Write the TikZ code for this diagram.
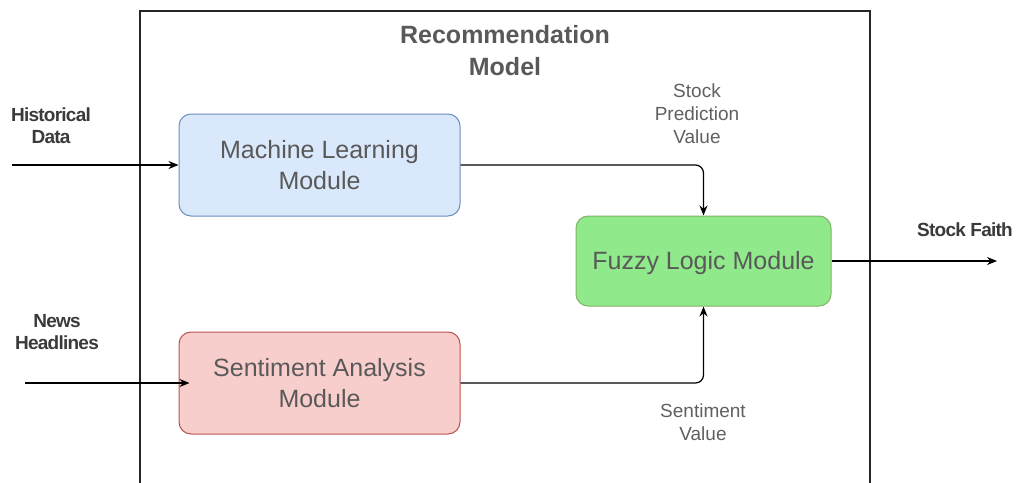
\documentclass[tikz,border=0pt]{standalone}
\usepackage{fontspec}
\setmainfont{Liberation Sans}
\usetikzlibrary{arrows.meta}
\definecolor{mlfill}{HTML}{DAE8FC}
\definecolor{mldraw}{HTML}{6C8EBF}
\definecolor{safill}{HTML}{F8CECC}
\definecolor{sadraw}{HTML}{B85450}
\definecolor{fzfill}{HTML}{90E98B}
\definecolor{fzdraw}{HTML}{82B366}
\definecolor{boxtext}{HTML}{595959}
\definecolor{labtext}{HTML}{3A3A3A}
\definecolor{lighttext}{HTML}{606060}
\tikzset{
  module/.style={rounded corners=12pt, line width=1pt, align=center, inner sep=0pt,
    text=boxtext, font=\fontsize{25}{31}\selectfont},
  conn/.style={line width=1.2pt, draw=black, -{Stealth[length=10pt,width=8pt]}},
  inlabel/.style={align=center, text=labtext, inner sep=0pt,
    font=\fontsize{19}{22}\selectfont\bfseries\addfontfeatures{LetterSpace=-4}},
  vallabel/.style={align=center, text=lighttext, inner sep=0pt,
    font=\fontsize{19}{23}\selectfont},
}
\begin{document}
\begin{tikzpicture}[x=1pt,y=-1pt]
\useasboundingbox (0,0) rectangle (1020,482);
% outer frame
\draw[line width=1.3pt, draw=black!85] (140,11) rectangle (870,500);
\node[align=center, text=boxtext, inner sep=0pt, font=\fontsize{25}{32}\selectfont\bfseries] (title) at (505,51) {Recommendation\\Model};
% modules
\node[module, fill=mlfill, draw=mldraw, minimum width=281pt, minimum height=102pt] (ml) at (319.5,165) {Machine Learning\\Module};
\node[module, fill=safill, draw=sadraw, minimum width=281pt, minimum height=102pt] (sa) at (319.5,383) {Sentiment Analysis\\Module};
\node[module, fill=fzfill, draw=fzdraw, minimum width=255pt, minimum height=90pt, text depth=2pt] (fz) at (703.5,261) {Fuzzy Logic Module};
% labels
\node[inlabel] (hd) at (51,126) {Historical\\Data};
\node[inlabel] (nh) at (57,332) {News\\Headlines};
\node[inlabel] (sf) at (965,230) {Stock Faith};
\node[vallabel] (spv) at (697,114) {Stock\\Prediction\\Value};
\node[vallabel] (sv) at (703,422) {Sentiment\\Value};
% free ends
\coordinate (hdin) at (12,165);
\coordinate (nhin) at (25,383);
\coordinate (out) at (997,261);
% connectors
\draw[conn] (hdin) -- (ml.west);
\draw[conn, shorten >=-11pt] (nhin) -- (sa.west);
\draw[conn, rounded corners=8pt] (ml.east) -| (fz.north);
\draw[conn, rounded corners=8pt] (sa.east) -| (fz.south);
\draw[conn] (fz.east) -- (out);
\end{tikzpicture}
\end{document}
